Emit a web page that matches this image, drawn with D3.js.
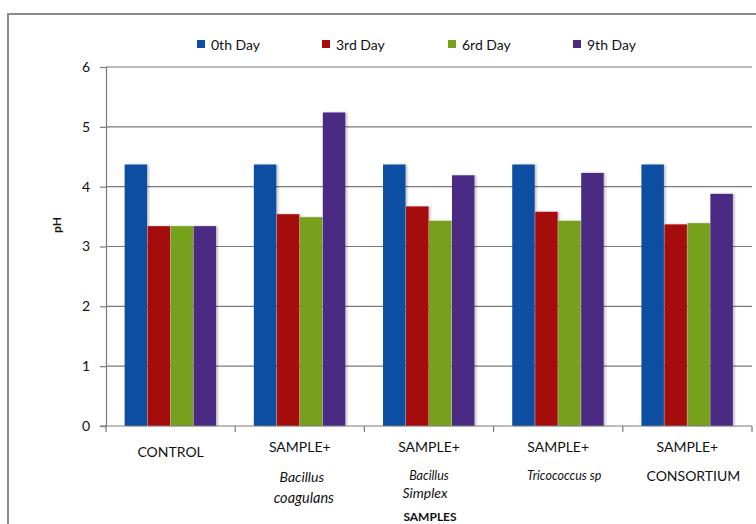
<!DOCTYPE html>
<html>
<head>
<meta charset="utf-8">
<script src="https://cdn.jsdelivr.net/npm/d3@7"></script>
<style>
  html, body { margin: 0; padding: 0; background: #fff; }
  svg text { font-family: Lato, "Open Sans", sans-serif; fill: #111; }
</style>
</head>
<body>
<svg id="chart" width="756" height="524"></svg>
<script>
// pH of each sample over the storage days
const categories = ["CONTROL", "SAMPLE+ Bacillus coagulans", "SAMPLE+ Bacillus Simplex", "SAMPLE+ Tricococcus sp", "SAMPLE+ CONSORTIUM"];
const seriesNames = ["0th Day", "3rd Day", "6rd Day", "9th Day"];
const day0 = [4.37, 4.37, 4.37, 4.37, 4.37];
const day3 = [3.34, 3.54, 3.67, 3.58, 3.37];
const day6 = [3.34, 3.49, 3.43, 3.43, 3.39];
const day9 = [3.34, 5.24, 4.19, 4.23, 3.88];
const yTicks = [0, 1, 2, 3, 4, 5, 6];
const seriesColors = ["#0b4ea2", "#a50d0d", "#77a11b", "#4c2a84"];

// Category label lines: [text, italic?, font size]
const categoryLines = [
  [["CONTROL", false, 14]],
  [["SAMPLE+", false, 14], ["Bacillus", true, 14], ["coagulans", true, 14.5]],
  [["SAMPLE+", false, 14], ["Bacillus", true, 12.5], ["Simplex", true, 14]],
  [["SAMPLE+", false, 14], ["Tricococcus sp", true, 12.5]],
  [["SAMPLE+", false, 14], ["CONSORTIUM", false, 14]]
];

const values = [day0, day3, day6, day9];

const svg = d3.select("#chart");

// Outer frame (open on the right and bottom)
svg.append("path")
  .attr("d", "M8,530 L8,14 L760,14")
  .attr("fill", "none")
  .attr("stroke", "#8a8a8a")
  .attr("stroke-width", 2);

const plot = { left: 106, right: 752, top: 67, bottom: 426 };

const x0 = d3.scaleBand().domain(categories).range([plot.left, plot.right]).padding(0);
const x1 = d3.scaleBand().domain(seriesNames).range([0, x0.bandwidth()]).paddingInner(0).paddingOuter(0.81);
const y = d3.scaleLinear().domain([0, 6]).range([plot.bottom, plot.top]);

// Horizontal gridlines
svg.append("g")
  .selectAll("line")
  .data(yTicks.filter(t => t > 0))
  .join("line")
  .attr("x1", plot.left).attr("x2", plot.right)
  .attr("y1", d => y(d)).attr("y2", d => y(d))
  .attr("stroke", "#7a7a7a").attr("stroke-width", 1.2);

// Bar shadow filter
const defs = svg.append("defs");
const f = defs.append("filter").attr("id", "shadow").attr("x", "-20%").attr("y", "-10%").attr("width", "150%").attr("height", "130%");
f.append("feDropShadow").attr("dx", 2).attr("dy", 0).attr("stdDeviation", 1.2)
  .attr("flood-color", "#000").attr("flood-opacity", 0.22);

// Bars
const groups = svg.append("g")
  .selectAll("g")
  .data(categories)
  .join("g")
  .attr("transform", d => `translate(${x0(d)},0)`);

groups.selectAll("rect")
  .data((c, i) => seriesNames.map((s, k) => ({ s, k, v: values[k][i] })))
  .join("rect")
  .attr("x", d => x1(d.s))
  .attr("width", x1.bandwidth() - 0.5)
  .attr("y", d => y(d.v))
  .attr("height", d => y(0) - y(d.v))
  .attr("fill", d => seriesColors[d.k])
  .attr("filter", "url(#shadow)");

// Y axis
const yAxis = svg.append("g")
  .attr("transform", `translate(${plot.left},0)`)
  .call(d3.axisLeft(y).tickValues(yTicks).tickFormat(d3.format("d")).tickSize(6).tickPadding(10));
yAxis.select(".domain").attr("stroke", "#7a7a7a").attr("stroke-width", 1.2);
yAxis.selectAll(".tick line").attr("stroke", "#7a7a7a").attr("stroke-width", 1.2);
yAxis.selectAll(".tick text").style("font-size", "14px").style("font-family", "Lato, sans-serif").attr("fill", "#111");

// X axis line with category boundary ticks
const bounds = categories.map(c => x0(c)).concat([plot.right]);
svg.append("line")
  .attr("x1", plot.left - 6).attr("x2", plot.right)
  .attr("y1", plot.bottom).attr("y2", plot.bottom)
  .attr("stroke", "#7a7a7a").attr("stroke-width", 1.2);
svg.append("g").selectAll("line")
  .data(bounds)
  .join("line")
  .attr("x1", d => d).attr("x2", d => d)
  .attr("y1", plot.bottom).attr("y2", plot.bottom + 6)
  .attr("stroke", "#7a7a7a").attr("stroke-width", 1.2);

// Category labels
const lineY = [
  [451],
  [446, 476, 497],
  [446, 475, 492],
  [446, 475],
  [446, 475]
];
const lineDx = [
  [0],
  [0, 2, 4],
  [0, 0, -4],
  [0, 6],
  [0, 6]
];
categories.forEach((c, i) => {
  const cx = x0(c) + x0.bandwidth() / 2;
  categoryLines[i].forEach((ln, j) => {
    svg.append("text")
      .attr("x", cx + lineDx[i][j])
      .attr("y", lineY[i][j])
      .attr("text-anchor", "middle")
      .attr("dominant-baseline", "central")
      .style("font-size", ln[2] + "px")
      .style("font-style", ln[1] ? "italic" : "normal")
      .text(ln[0]);
  });
});

// Axis titles
svg.append("text")
  .attr("transform", `translate(56,225) rotate(-90)`)
  .attr("text-anchor", "middle")
  .attr("dominant-baseline", "central")
  .style("font-size", "12px")
  .style("font-weight", "bold")
  .text("pH");

svg.append("text")
  .attr("x", 430).attr("y", 516)
  .attr("text-anchor", "middle")
  .attr("dominant-baseline", "central")
  .style("font-size", "12px")
  .style("font-weight", "bold")
  .text("SAMPLES");

// Legend
const legendX = [197, 322, 448, 573];
const legend = svg.append("g").selectAll("g")
  .data(seriesNames)
  .join("g")
  .attr("transform", (d, i) => `translate(${legendX[i]},44)`);
legend.append("rect")
  .attr("x", 0).attr("y", -4).attr("width", 8).attr("height", 8)
  .attr("fill", (d, i) => seriesColors[i]);
legend.append("text")
  .attr("x", 14).attr("y", 0)
  .attr("dominant-baseline", "central")
  .style("font-size", "14px")
  .text(d => d);
</script>
</body>
</html>
